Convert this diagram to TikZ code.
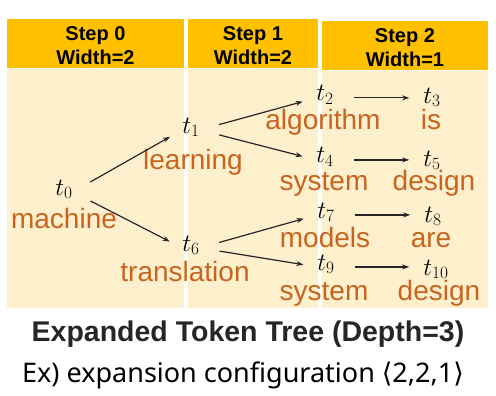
\documentclass[tikz,border=0pt]{standalone}
\usepackage{fontspec}
\setmainfont{Liberation Sans}
\newfontfamily\subfont{Noto Sans}
\newfontfamily\symfont{DejaVu Sans}
\usepackage{tikz}
\usetikzlibrary{arrows.meta, positioning}
\definecolor{stepgold}{HTML}{FFC000}
\definecolor{panelcream}{HTML}{FFF0CD}
\definecolor{wordorange}{HTML}{C8641E}

\begin{document}
\begin{tikzpicture}[x=1pt, y=-1pt,
  head/.style={rectangle, fill=stepgold, inner sep=0pt, minimum height=49pt},
  hlbl/.style={align=center, inner sep=0pt, font=\fontsize{20}{24}\selectfont\bfseries},
  panel/.style={rectangle, fill=panelcream, inner sep=0pt},
  tok/.style={inner sep=0pt, anchor=base, font=\fontsize{26}{28}\selectfont,
              text height=0.72em, text depth=0.1em},
  word/.style={inner sep=0pt, anchor=base, text=wordorange,
               font=\fontsize{28}{30}\selectfont, text height=0.68em},
  arr/.style={-{Stealth[length=7pt, width=5pt]}, line width=1.2pt, black!85,
              shorten <=20pt, shorten >=14pt}
]
\useasboundingbox (0,0) rectangle (496,396);

% ---- step columns ----
\node[panel, minimum width=177pt, minimum height=239pt] (p0) at (95.5,188.5) {};
\node[panel, minimum width=130pt, minimum height=239pt] (p1) at (253,188.5) {};
\node[panel, minimum width=166pt, minimum height=237pt] (p2) at (405,189.5) {};
\node[head, minimum width=177pt] (h0) at (95.5,43.5) {};
\node[head, minimum width=130pt] (h1) at (253,43.5)  {};
\node[head, minimum width=166pt] (h2) at (405,45.5)  {};
\node[hlbl] (s0) at ([yshift=-2pt]h0.center) {Step 0\\Width=2};
\node[hlbl] (s1) at ([yshift=-2pt]h1.center) {Step 1\\Width=2};
\node[hlbl] (s2) at ([yshift=-2pt]h2.center) {Step 2\\Width=1};

% ---- tokens ----
\node[tok] (t0)  at (64,195)  {$t_0$};
\node[tok] (t1)  at (191,133) {$t_1$};
\node[tok] (t6)  at (191,251) {$t_6$};
\node[tok] (t2)  at (325,101) {$t_2$};
\node[tok] (t4)  at (325,163) {$t_4$};
\node[tok] (t7)  at (326,218) {$t_7$};
\node[tok] (t9)  at (326,270) {$t_9$};
\node[tok] (t3)  at (432,103) {$t_3$};
\node[tok] (t5)  at (432,166) {$t_5$};
\node[tok] (t8)  at (433,222) {$t_8$};
\node[tok] (t10) at (436,275) {$t_{10}$};

% ---- words ----
\node[word] (w0)  at (64,228)  {machine};
\node[word] (w1)  at (193,169) {learning};
\node[word] (w6)  at (185,281) {translation};
\node[word] (w2)  at (323,130) {algorithm};
\node[word] (w3)  at (431,130) {is};
\node[word] (w4)  at (324,190) {system};
\node[word] (w5)  at (434,190) {design};
\node[word] (w7)  at (325,247) {models};
\node[word] (w8)  at (431,247) {are};
\node[word] (w9)  at (324,300) {system};
\node[word] (w10) at (439,300) {design};

% ---- expansion ----
\draw[arr] (t0.east) -- (t1.west);
\draw[arr] (t0.east) -- (t6.west);
\draw[arr] (t1.east) -- (t2.west);
\draw[arr] (t1.east) -- (t4.west);
\draw[arr] (t6.east) -- (t7.west);
\draw[arr] (t6.east) -- (t9.west);
\draw[arr] (t2.east) -- (t2.east -| t3.west);
\draw[arr] (t4.east) -- (t4.east -| t5.west);
\draw[arr] (t7.east) -- (t7.east -| t8.west);
\draw[arr] (t9.east) -- (t9.east -| t10.west);

% ---- captions ----
\node[font=\fontsize{28.5}{31}\selectfont\bfseries, text=black!85] (title) at (248,334)
  {Expanded Token Tree (Depth=3)};
\node[font=\fontsize{27}{30}\selectfont\subfont] (sub) at (243,375)
  {Ex) expansion configuration {\symfont ⟨}2,2,1{\symfont ⟩}};

\end{tikzpicture}
\end{document}
